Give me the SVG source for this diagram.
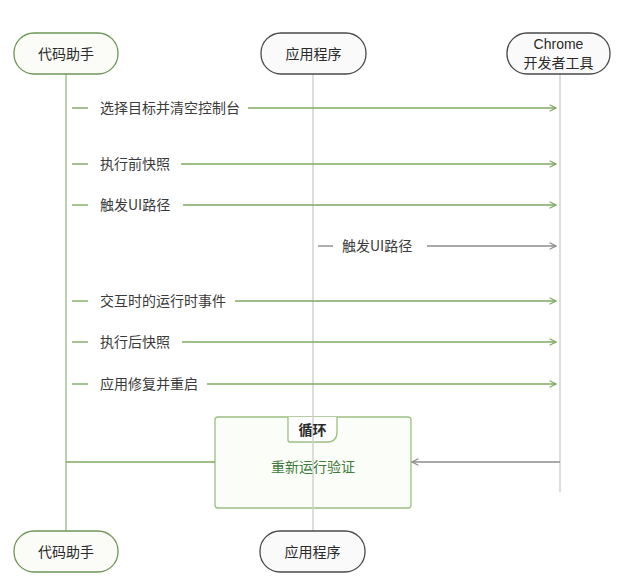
<svg xmlns="http://www.w3.org/2000/svg" width="636" height="578" viewBox="0 0 636 578">
<style>
text{font-family:"Noto Sans CJK SC","Noto Sans",sans-serif;font-size:14px;fill:#2a2a2a}
.lbl{fill:#3a3a3a}
.node-g rect{fill:#fbfcf8;stroke:#6f9556;stroke-width:1.3}
.node-a rect{fill:#fafafa;stroke:#4a4a4a;stroke-width:1.3}
.life-g{stroke:#a9c795;stroke-width:1.6}
.life-a{stroke:#cfcfcf;stroke-width:1.6;opacity:0.85}
.msg-g{stroke:#7faa62;stroke-width:1.4;fill:none}
.msg-a{stroke:#8c8c8c;stroke-width:1.4;fill:none}
</style>
<defs>
<marker id="ag" viewBox="0 0 10 10" refX="9" refY="5" markerWidth="8" markerHeight="8" markerUnits="userSpaceOnUse" orient="auto"><path d="M1,1 L9,5 L1,9" fill="none" stroke="#7faa62" stroke-width="1.4"/></marker>
<marker id="aa" viewBox="0 0 10 10" refX="9" refY="5" markerWidth="8" markerHeight="8" markerUnits="userSpaceOnUse" orient="auto"><path d="M1,1 L9,5 L1,9" fill="none" stroke="#8c8c8c" stroke-width="1.4"/></marker>
</defs>
<rect width="636" height="578" fill="#ffffff"/>
<g id="loop">
<rect x="215" y="417" width="196" height="91" rx="3" fill="#fbfdf8" stroke="#9cbf82" stroke-width="1.3"/>
<path d="M288,417 V440 Q288,442 290,442 H327 Q337,442 337,432 V417" fill="#ffffff" stroke="#9cbf82" stroke-width="1.3"/>
</g>
<g id="lifelines">
<line class="life-g" x1="66" y1="74" x2="66" y2="531"/>
<line class="life-a" x1="313" y1="74" x2="313" y2="531"/>
<line class="life-a" x1="560" y1="74" x2="560" y2="492"/>
</g>
<g id="loop-labels">
<text x="312.5" y="434.5" text-anchor="middle" font-size="13" style="font-weight:bold">循环</text>
<text x="313" y="472" text-anchor="middle" style="fill:#3f7a3a">重新运行验证</text>
</g>
<g id="connectors">
<line class="msg-g" x1="72" y1="108" x2="88" y2="108"/>
<text class="lbl" x="100" y="113">选择目标并清空控制台</text>
<line class="msg-g" x1="248" y1="108" x2="556" y2="108" marker-end="url(#ag)"/>
<line class="msg-g" x1="72" y1="164" x2="88" y2="164"/>
<text class="lbl" x="100" y="169">执行前快照</text>
<line class="msg-g" x1="181" y1="164" x2="556" y2="164" marker-end="url(#ag)"/>
<line class="msg-g" x1="72" y1="205" x2="88" y2="205"/>
<text class="lbl" x="100" y="210">触发UI路径</text>
<line class="msg-g" x1="183" y1="205" x2="556" y2="205" marker-end="url(#ag)"/>
<line class="msg-a" x1="318" y1="246" x2="333" y2="246"/>
<text class="lbl" x="342" y="251">触发UI路径</text>
<line class="msg-a" x1="427" y1="246" x2="556" y2="246" marker-end="url(#aa)"/>
<line class="msg-g" x1="72" y1="301" x2="88" y2="301"/>
<text class="lbl" x="100" y="306">交互时的运行时事件</text>
<line class="msg-g" x1="235" y1="301" x2="556" y2="301" marker-end="url(#ag)"/>
<line class="msg-g" x1="72" y1="342" x2="88" y2="342"/>
<text class="lbl" x="100" y="347">执行后快照</text>
<line class="msg-g" x1="182" y1="342" x2="556" y2="342" marker-end="url(#ag)"/>
<line class="msg-g" x1="72" y1="384" x2="88" y2="384"/>
<text class="lbl" x="100" y="389">应用修复并重启</text>
<line class="msg-g" x1="207" y1="384" x2="556" y2="384" marker-end="url(#ag)"/>
<line class="msg-g" x1="66" y1="462" x2="215" y2="462"/>
<line class="msg-a" x1="560" y1="462" x2="412" y2="462" marker-end="url(#aa)"/>
</g>
<g id="node-assistant-top" class="node-g">
<rect x="14" y="33" width="104" height="41" rx="20"/>
<text x="66" y="58.5" text-anchor="middle">代码助手</text>
</g>
<g id="node-app-top" class="node-a">
<rect x="261" y="33" width="105" height="41" rx="20"/>
<text x="313.5" y="58.5" text-anchor="middle">应用程序</text>
</g>
<g id="node-chrome-top" class="node-a">
<rect x="507" y="33" width="103" height="41" rx="20"/>
<text x="558.5" y="49" text-anchor="middle" font-size="12" style="font-family:'Liberation Sans','Noto Sans',sans-serif">Chrome</text>
<text x="558.5" y="68" text-anchor="middle" font-size="13.5">开发者工具</text>
</g>
<g id="node-assistant-bottom" class="node-g">
<rect x="14" y="531" width="104" height="41" rx="20"/>
<text x="66" y="556.5" text-anchor="middle">代码助手</text>
</g>
<g id="node-app-bottom" class="node-a">
<rect x="260" y="531" width="105" height="41" rx="20"/>
<text x="312.5" y="556.5" text-anchor="middle">应用程序</text>
</g>
</svg>
